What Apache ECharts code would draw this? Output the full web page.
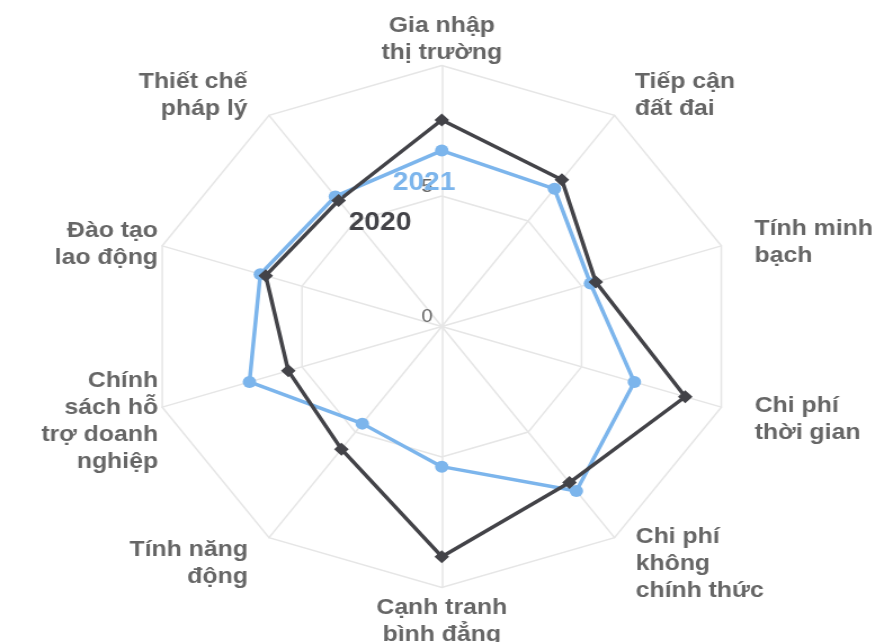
<!DOCTYPE html>
<html>
<head>
<meta charset="utf-8">
<script src="https://cdn.jsdelivr.net/npm/echarts@6/dist/echarts.min.js"></script>
<style>
html,body{margin:0;padding:0;background:#fff;overflow:hidden;}
#wrap{width:875px;height:642px;overflow:hidden;}
#chart{width:777px;height:642px;transform:scaleX(1.1261);transform-origin:0 0;}
</style>
</head>
<body>
<div id="wrap"><div id="chart"></div></div>
<script>
// Categories in clockwise order starting at top
const categories = [
  'Gia nhập\nthị trường',
  'Tiếp cận\nđất đai',
  'Tính minh\nbạch',
  'Chi phí\nthời gian',
  'Chi phí\nkhông\nchính thức',
  'Cạnh tranh\nbình đẳng',
  'Tính năng\nđộng',
  'Chính\nsách hỗ\ntrợ doanh\nnghiệp',
  'Đào tạo\nlao động',
  'Thiết chế\npháp lý'
];
const values2021 = [6.74, 6.52, 5.32, 6.89, 7.79, 5.37, 4.60, 6.88, 6.49, 6.16];
const values2020 = [7.91, 6.95, 5.51, 8.71, 7.39, 8.82, 5.81, 5.49, 6.30, 5.97];
const seriesNames = ['2021', '2020'];
const axisMax = 10;

// label placement tweaks per category (clockwise order), style only
const nameGaps = [-1, 24, 11.6, 40.7, 32, 7, 32, 46, 4, 24];
const namePads = [
  [0, 0, 0, 0], [0, 0, 0, 4], [0, 0, 0, 18.5], [0, 0, 0, -9], [0, 0, 0, 0],
  [0, 0, 0, 0], [0, 0, 0, 0], [0, -40, 0, 0], [0, 0, 0, 0], [0, 5, 0, 0]
];

// ECharts places indicators counter-clockwise; reorder to get clockwise layout
const order = categories.map((_, i) => (categories.length - i) % categories.length);
const reorder = arr => order.map(i => arr[i]);

const indicators = order.map((ci, i) => {
  const ind = {
    name: categories[ci], min: 0, max: axisMax,
    nameGap: nameGaps[ci],
    nameTextStyle: { padding: namePads[ci] }
  };
  if (i === 0) {
    ind.axisLabel = { show: true, showMaxLabel: false };
  }
  return ind;
});

const chart = echarts.init(document.getElementById('chart'), null, { renderer: 'canvas' });
chart.setOption({
  animation: false,
  backgroundColor: '#ffffff',
  radar: {
    center: [392.3, 326.5],
    radius: 261,
    startAngle: 90,
    splitNumber: 2,
    shape: 'polygon',
    nameGap: 14,
    indicator: indicators,
    axisName: {
      color: '#666666',
      fontFamily: 'Liberation Sans, Arial, sans-serif',
      fontSize: 22,
      fontWeight: 'bold',
      lineHeight: 27
    },
    axisLine: { lineStyle: { color: '#e6e6e6', width: 1.5 } },
    splitLine: { lineStyle: { color: '#e6e6e6', width: 1.5 } },
    splitArea: { show: false },
    axisTick: { show: false },
    axisLabel: {
      show: false,
      color: '#666666',
      fontFamily: 'Liberation Sans, Arial, sans-serif',
      fontSize: 18,
      margin: 8,
      verticalAlign: 'bottom'
    }
  },
  series: [{
    type: 'radar',
    data: [
      {
        name: seriesNames[0],
        value: reorder(values2021),
        symbol: 'circle',
        symbolSize: 12,
        lineStyle: { color: '#7cb5ec', width: 3.5 },
        itemStyle: { color: '#7cb5ec' }
      },
      {
        name: seriesNames[1],
        value: reorder(values2020),
        symbol: 'diamond',
        symbolSize: 13,
        lineStyle: { color: '#434348', width: 3.5 },
        itemStyle: { color: '#434348' }
      }
    ]
  }],
  graphic: [
    {
      type: 'text',
      z: 100,
      style: {
        text: seriesNames[0],
        x: 376.6, y: 183,
        align: 'center', verticalAlign: 'middle',
        fill: '#7cb5ec',
        font: 'bold 25px "Liberation Sans", Arial, sans-serif'
      }
    },
    {
      type: 'text',
      z: 100,
      style: {
        text: seriesNames[1],
        x: 337.5, y: 223,
        align: 'center', verticalAlign: 'middle',
        fill: '#434348',
        font: 'bold 25px "Liberation Sans", Arial, sans-serif'
      }
    }
  ]
});
</script>
</body>
</html>
